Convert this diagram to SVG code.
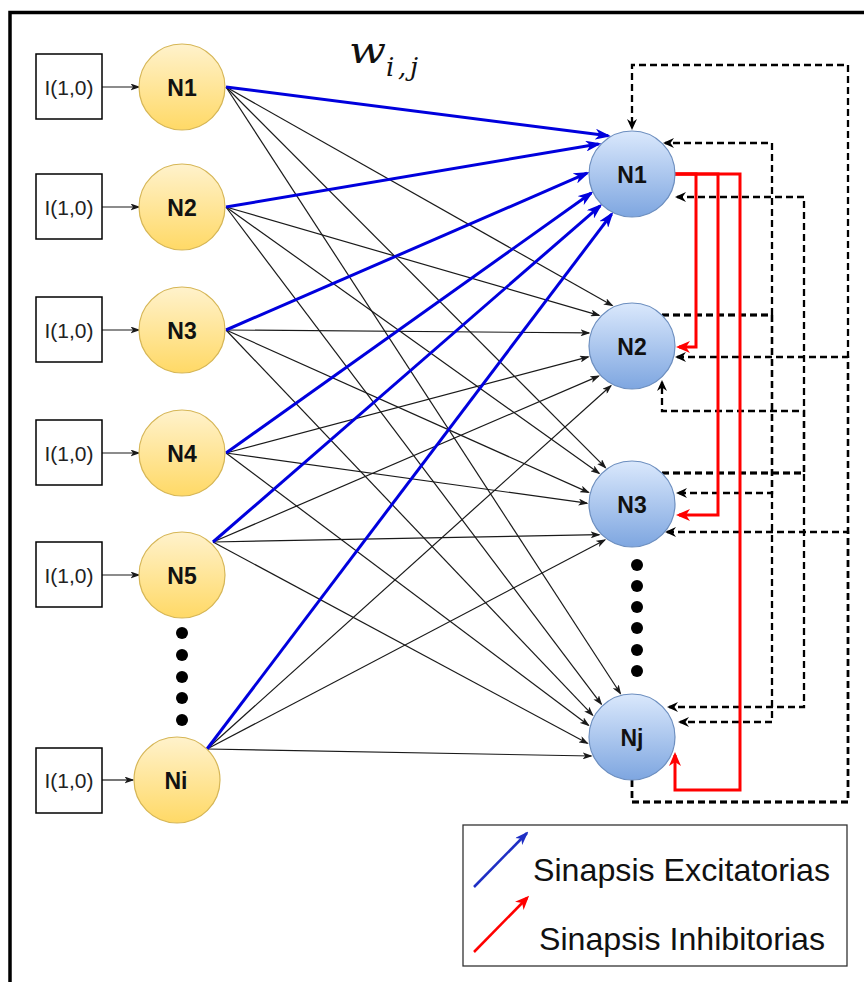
<svg xmlns="http://www.w3.org/2000/svg" width="864" height="982" viewBox="0 0 864 982">
  <defs>
    <linearGradient id="gradIn" x1="0" y1="0" x2="0" y2="1">
      <stop offset="0" stop-color="#fff2cc"/>
      <stop offset="1" stop-color="#ffd966"/>
    </linearGradient>
    <linearGradient id="gradOut" x1="0" y1="0" x2="0" y2="1">
      <stop offset="0" stop-color="#dae8fc"/>
      <stop offset="1" stop-color="#7ea6e0"/>
    </linearGradient>
    <marker id="arrBlack" markerUnits="userSpaceOnUse" markerWidth="10" markerHeight="7" refX="8.5" refY="3.5" orient="auto">
      <path d="M0,0 L10,3.5 L0,7 L2.5,3.5 Z" fill="#1a1a1a"/>
    </marker>
    <marker id="arrBlue" markerUnits="userSpaceOnUse" markerWidth="16" markerHeight="11" refX="13" refY="5.5" orient="auto">
      <path d="M0,0 L16,5.5 L0,11 L4.5,5.5 Z" fill="#0000dd"/>
    </marker>
    <marker id="arrBlueLegend" markerUnits="userSpaceOnUse" markerWidth="14" markerHeight="10" refX="12" refY="5" orient="auto">
      <path d="M0,0 L14,5 L0,10 L4,5 Z" fill="#1f2fc4"/>
    </marker>
    <marker id="arrRed" markerUnits="userSpaceOnUse" markerWidth="14" markerHeight="12" refX="11" refY="6" orient="auto">
      <path d="M0,0 L14,6 L0,12 L4,6 Z" fill="#ff0000"/>
    </marker>
    <marker id="arrDash" markerUnits="userSpaceOnUse" markerWidth="11" markerHeight="10" refX="9" refY="5" orient="auto">
      <path d="M0,0 L11,5 L0,10 L3.5,5 Z" fill="#000"/>
    </marker>
    <style>
      .box { fill: #fff; stroke: #000; stroke-width: 1.5; }
      .boxTxt { font-family: "Liberation Sans", Arial, sans-serif; font-size: 21px; fill: #222; text-anchor: middle; }
      .nIn { fill: url(#gradIn); stroke: #d6b656; stroke-width: 1.2; }
      .nOut { fill: url(#gradOut); stroke: #6c8ebf; stroke-width: 1.2; }
      .nTxt { font-family: "Liberation Sans", Arial, sans-serif; font-size: 23px; font-weight: bold; fill: #111; text-anchor: middle; }
      .dot { fill: #000; }
      .syn { fill: none; stroke: #1a1a1a; stroke-width: 1.2; marker-end: url(#arrBlack); }
      .exc { fill: none; stroke: #0000dd; stroke-width: 3; marker-end: url(#arrBlue); }
      .inh { fill: none; stroke: #ff0000; stroke-width: 3; marker-end: url(#arrRed); }
      .fb { fill: none; stroke: #000; stroke-width: 2.3; stroke-dasharray: 7 4; marker-end: url(#arrDash); }
      .legTxt { font-family: "Liberation Sans", Arial, sans-serif; font-size: 31.5px; fill: #111; }
      .math { font-family: "DejaVu Serif", "Liberation Serif", serif; font-style: italic; fill: #111; }
    </style>
  </defs>

  <rect width="864" height="982" fill="#fff"/>
  <!-- outer frame -->
  <path d="M10,982 V12.5 H864" fill="none" stroke="#000" stroke-width="3.5"/>

  <!-- weight label -->
  <text class="math" x="349" y="63" font-size="38" textLength="37" lengthAdjust="spacingAndGlyphs">w</text>
  <text class="math" x="386" y="76" font-size="26" textLength="32" lengthAdjust="spacing">i,j</text>

  <g id="connectors">
    <!-- inputs -->
    <line class="syn" x1="102" y1="87" x2="139" y2="87"/>
    <line class="syn" x1="102" y1="207" x2="139" y2="207"/>
    <line class="syn" x1="102" y1="330" x2="139" y2="330"/>
    <line class="syn" x1="102" y1="453" x2="139" y2="453"/>
    <line class="syn" x1="102" y1="575" x2="139" y2="575"/>
    <line class="syn" x1="102" y1="780" x2="133" y2="780"/>

    <!-- synapses to N2, N3, Nj -->
    <line class="syn" x1="226" y1="87" x2="612.3" y2="305.6"/>
    <line class="syn" x1="226" y1="87" x2="605.5" y2="467.6"/>
    <line class="syn" x1="226" y1="87" x2="620.4" y2="693.5"/>
    <line class="syn" x1="226" y1="207" x2="599.1" y2="315.3"/>
    <line class="syn" x1="226" y1="207" x2="599.1" y2="473.3"/>
    <line class="syn" x1="226" y1="207" x2="601.3" y2="704.1"/>
    <line class="syn" x1="226" y1="330" x2="589" y2="332.9"/>
    <line class="syn" x1="226" y1="330" x2="588.5" y2="492.4"/>
    <line class="syn" x1="226" y1="330" x2="592.6" y2="715.2"/>
    <line class="syn" x1="226" y1="453" x2="588.3" y2="356.9"/>
    <line class="syn" x1="226" y1="453" x2="587" y2="503.2"/>
    <line class="syn" x1="226" y1="453" x2="588.5" y2="725.3"/>
    <line class="syn" x1="213" y1="542" x2="598.6" y2="376.1"/>
    <line class="syn" x1="213" y1="542" x2="599.1" y2="534.7"/>
    <line class="syn" x1="213" y1="542" x2="587.4" y2="743.3"/>
    <line class="syn" x1="207" y1="749" x2="610.9" y2="385.7"/>
    <line class="syn" x1="207" y1="749" x2="604.9" y2="540"/>
    <line class="syn" x1="207" y1="749" x2="591.2" y2="756"/>

    <!-- excitatory synapses to N1 -->
    <line class="exc" x1="226" y1="87" x2="608.2" y2="135.8"/>
    <line class="exc" x1="226" y1="207" x2="598.6" y2="143.9"/>
    <line class="exc" x1="226" y1="330" x2="587" y2="173.2"/>
    <line class="exc" x1="226" y1="453" x2="591.2" y2="193"/>
    <line class="exc" x1="213" y1="542" x2="600.2" y2="205.8"/>
    <line class="exc" x1="207" y1="749" x2="611.6" y2="214.1"/>

    <!-- lateral feedback -->
    <path class="fb" d="M632,780 V802 H848 V65 H632 V128"/>
    <path class="fb" d="M632,780 V802 H848 V357 H677"/>
    <path class="fb" d="M632,780 V802 H848 V532 H667"/>
    <path class="fb" d="M662,315 H772 V143 H665"/>
    <path class="fb" d="M662,315 H772 V493 H678"/>
    <path class="fb" d="M662,315 H772 V722 H680"/>
    <path class="fb" d="M662,473 H804 V197 H677"/>
    <path class="fb" d="M662,473 H804 V411 H662 V382"/>
    <path class="fb" d="M662,473 H804 V707 H669"/>

    <!-- inhibitory synapses from N1 -->
    <path class="inh" d="M675,174 H696 V347 H679"/>
    <path class="inh" d="M675,174 H718 V515 H679"/>
    <path class="inh" d="M675,174 H740 V790 H675 V755"/>
  </g>

  <!-- input sources -->
  <g id="in1"><rect class="box" x="36" y="54" width="66" height="65"/><text class="boxTxt" x="69" y="95">I(1,0)</text></g>
  <g id="in2"><rect class="box" x="36" y="174" width="66" height="65"/><text class="boxTxt" x="69" y="215">I(1,0)</text></g>
  <g id="in3"><rect class="box" x="36" y="297" width="66" height="65"/><text class="boxTxt" x="69" y="338">I(1,0)</text></g>
  <g id="in4"><rect class="box" x="36" y="420" width="66" height="65"/><text class="boxTxt" x="69" y="461">I(1,0)</text></g>
  <g id="in5"><rect class="box" x="36" y="542" width="66" height="65"/><text class="boxTxt" x="69" y="583">I(1,0)</text></g>
  <g id="inI"><rect class="box" x="36" y="748" width="66" height="65"/><text class="boxTxt" x="69" y="788">I(1,0)</text></g>

  <!-- input layer -->
  <g id="left-N1"><circle class="nIn" cx="182" cy="87" r="43"/><text class="nTxt" x="182" y="95.5">N1</text></g>
  <g id="left-N2"><circle class="nIn" cx="182" cy="207" r="43"/><text class="nTxt" x="182" y="215.5">N2</text></g>
  <g id="left-N3"><circle class="nIn" cx="182" cy="330" r="43"/><text class="nTxt" x="182" y="338.5">N3</text></g>
  <g id="left-N4"><circle class="nIn" cx="182" cy="453" r="43"/><text class="nTxt" x="182" y="461.5">N4</text></g>
  <g id="left-N5"><circle class="nIn" cx="182" cy="575" r="43"/><text class="nTxt" x="182" y="583.5">N5</text></g>
  <g id="left-dots">
    <circle class="dot" cx="182" cy="633" r="6"/>
    <circle class="dot" cx="182" cy="655" r="6"/>
    <circle class="dot" cx="182" cy="677" r="6"/>
    <circle class="dot" cx="182" cy="698" r="6"/>
    <circle class="dot" cx="182" cy="720" r="6"/>
  </g>
  <g id="left-Ni"><circle class="nIn" cx="177" cy="780" r="43"/><text class="nTxt" x="176" y="788.5">Ni</text></g>

  <!-- output layer -->
  <g id="right-N1"><circle class="nOut" cx="632" cy="174" r="43"/><text class="nTxt" x="632" y="182.5">N1</text></g>
  <g id="right-N2"><circle class="nOut" cx="632" cy="346" r="43"/><text class="nTxt" x="632" y="354.5">N2</text></g>
  <g id="right-N3"><circle class="nOut" cx="632" cy="504" r="43"/><text class="nTxt" x="632" y="512.5">N3</text></g>
  <g id="right-dots">
    <circle class="dot" cx="637" cy="565" r="6"/>
    <circle class="dot" cx="637" cy="586" r="6"/>
    <circle class="dot" cx="637" cy="607" r="6"/>
    <circle class="dot" cx="637" cy="628" r="6"/>
    <circle class="dot" cx="637" cy="650" r="6"/>
    <circle class="dot" cx="637" cy="671" r="6"/>
  </g>
  <g id="right-Nj"><circle class="nOut" cx="632" cy="737" r="43"/><text class="nTxt" x="632" y="745.5">Nj</text></g>

  <!-- legend -->
  <g id="legend">
    <rect x="463" y="825" width="384" height="141" fill="#fff" stroke="#333" stroke-width="1.3"/>
    <line x1="474" y1="887" x2="527" y2="833" stroke="#1f2fc4" stroke-width="2.5" marker-end="url(#arrBlueLegend)"/>
    <text class="legTxt" x="533" y="881" textLength="297" lengthAdjust="spacingAndGlyphs">Sinapsis Excitatorias</text>
    <line x1="474" y1="952" x2="527" y2="898" stroke="#ff0000" stroke-width="2.5" marker-end="url(#arrRed)"/>
    <text class="legTxt" x="539" y="950" textLength="286" lengthAdjust="spacingAndGlyphs">Sinapsis Inhibitorias</text>
  </g>
</svg>
